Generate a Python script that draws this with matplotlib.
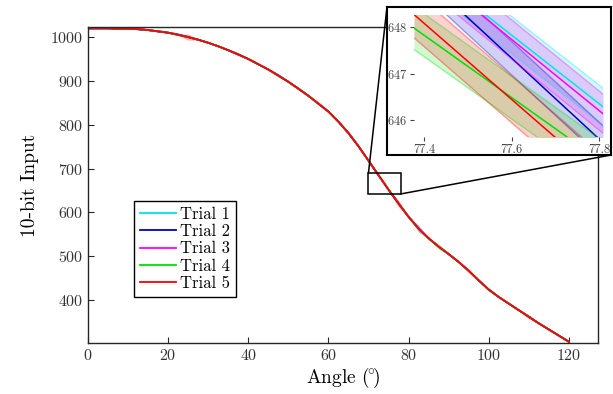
import matplotlib
matplotlib.use('Agg')
import matplotlib.pyplot as plt
from matplotlib.patches import Rectangle, ConnectionPatch
import numpy as np

plt.rcParams['font.family'] = 'serif'
plt.rcParams['font.serif'] = ['cmr10']
plt.rcParams['mathtext.fontset'] = 'cm'
plt.rcParams['axes.formatter.use_mathtext'] = True

# angle sweep (deg) and averaged 10-bit readings for each trial
angle = [0, 2.5, 5, 7.5, 10, 12.5, 15, 17.5, 20, 22.5, 25, 27.5, 30, 32.5, 35, 37.5,
         40, 42.5, 45, 47.5, 50, 52.5, 55, 57.5, 60, 62.5, 65, 67.5, 70, 72.5, 75, 77.5,
         80, 82.5, 85, 87.5, 90, 92.5, 95, 97.5, 100, 102.5, 105, 107.5, 110, 112.5,
         115, 117.5, 120]
trial_1 = [1020, 1020, 1020, 1019, 1019, 1018, 1016, 1013, 1010, 1005, 1000, 994, 987, 979,
           970, 960, 950, 938, 926, 912, 898, 882, 866, 848, 830, 807, 781, 751, 718, 685,
           652, 620, 590, 563, 541, 522, 505, 487, 467, 445, 424, 407, 392, 377, 362, 347,
           333, 319, 305]
trial_2 = [1020, 1020, 1020, 1019, 1019, 1018, 1016, 1013, 1010, 1006, 1000, 994, 987, 979,
           970, 961, 950, 938, 926, 913, 898, 883, 866, 848, 830, 807, 781, 751, 718, 685,
           652, 621, 590, 563, 541, 522, 505, 487, 467, 445, 424, 407, 392, 377, 362, 347,
           333, 319, 305]
trial_3 = [1020, 1020, 1020, 1019, 1019, 1018, 1016, 1013, 1010, 1005, 1000, 994, 987, 979,
           970, 960, 950, 938, 926, 912, 898, 882, 866, 849, 830, 807, 781, 751, 718, 685,
           652, 620, 590, 564, 541, 522, 505, 487, 467, 445, 424, 407, 392, 377, 362, 347,
           333, 319, 305]
trial_4 = [1020, 1020, 1020, 1019, 1019, 1018, 1016, 1013, 1010, 1005, 1000, 994, 987, 979,
           970, 960, 950, 938, 926, 912, 898, 882, 866, 848, 830, 807, 781, 751, 718, 685,
           652, 620, 590, 563, 541, 522, 505, 487, 467, 445, 424, 407, 392, 377, 362, 347,
           333, 319, 305]
trial_5 = [1020, 1020, 1020, 1019, 1019, 1018, 1016, 1013, 1010, 1005, 1000, 994, 987, 979,
           970, 960, 950, 938, 926, 912, 898, 882, 866, 848, 830, 807, 781, 751, 718, 685,
           652, 620, 590, 563, 541, 522, 505, 487, 467, 445, 424, 407, 392, 377, 362, 347,
           333, 319, 305]

# spread (+/-) of each trial
spread_1 = [1, 1, 1, 1, 1, 1, 1, 1, 1, 1, 2, 1, 1, 1, 1, 1, 1, 1, 1, 1, 1, 1, 1, 1, 1,
            1, 1, 3, 1, 1, 1, 1, 1, 1, 1, 1, 1, 1, 1, 1, 5, 1, 1, 1, 1, 1, 1, 1, 1]
spread_2 = [1, 1, 1, 1, 1, 1, 1, 1, 1, 1, 1, 1, 1, 1, 1, 1, 1, 1, 1, 1, 1, 1, 1, 1, 1,
            1, 1, 1, 1, 1, 1, 1, 1, 8, 1, 1, 1, 1, 1, 1, 1, 1, 1, 1, 1, 1, 1, 1, 1]
spread_3 = [1, 1, 1, 1, 1, 1, 1, 1, 1, 1, 1, 1, 1, 1, 1, 1, 1, 1, 1, 1, 1, 1, 1, 1, 1,
            1, 5, 4, 1, 1, 1, 1, 1, 1, 1, 1, 1, 1, 1, 1, 1, 1, 1, 1, 1, 1, 1, 1, 1]
spread_4 = [1, 1, 1, 1, 1, 1, 1, 1, 1, 1, 1, 1, 1, 1, 1, 1, 1, 1, 1, 4, 1, 1, 1, 1, 1,
            1, 1, 1, 1, 1, 1, 1, 1, 1, 1, 7, 1, 1, 1, 1, 1, 1, 1, 1, 1, 1, 1, 1, 1]
spread_5 = [1, 1, 1, 1, 1, 1, 1, 1, 1, 1, 7, 1, 1, 1, 1, 1, 1, 1, 1, 1, 1, 1, 1, 1, 1,
            1, 1, 1, 1, 1, 1, 8, 1, 1, 1, 1, 1, 1, 5, 1, 1, 1, 1, 1, 5, 1, 1, 1, 1]

labels = ['Trial 1', 'Trial 2', 'Trial 3', 'Trial 4', 'Trial 5']
colors = ['#00e5e5', '#0000c8', '#ff00ff', '#00e000', '#ff0000']

# close-up segments: (x0, y0) -> (x1, y1) and band half-height
zoom_x = [77.377, 77.809]
zoom_1 = [649.47, 646.29]
zoom_2 = [649.27, 645.52]
zoom_3 = [649.44, 646.14]
zoom_4 = [647.98, 645.09]
zoom_5 = [648.27, 644.74]
zoom_spread = [0.40, 0.36, 0.42, 0.46, 0.50]

trials = [trial_1, trial_2, trial_3, trial_4, trial_5]
spreads = [spread_1, spread_2, spread_3, spread_4, spread_5]
zooms = [zoom_1, zoom_2, zoom_3, zoom_4, zoom_5]

fig = plt.figure(figsize=(6.13, 3.94), dpi=100)
ax = fig.add_axes([0.1436, 0.1294, 0.832, 0.8021])

a = np.array(angle)
for vals, sp, c, lab in zip(trials, spreads, colors, labels):
    v = np.array(vals, dtype=float)
    s = np.array(sp, dtype=float)
    ax.fill_between(a, v - s, v + s, color=c, alpha=0.3, lw=0)
    ax.plot(a, v, color=c, lw=1.3, label=lab)

ax.set_xlim(0, 127.3)
ax.set_ylim(302, 1023)
ax.set_xticks([0, 20, 40, 60, 80, 100, 120])
ax.set_yticks([400, 500, 600, 700, 800, 900, 1000])
ax.tick_params(direction='in', length=4, labelsize=11.5, colors='#262626',
               labelcolor='#333333', width=0.8)
for sp in ax.spines.values():
    sp.set_color('#262626')
    sp.set_linewidth(1.0)
ax.set_xlabel('Angle ($\\!^{\\circ}\\!$)', fontsize=14, labelpad=2)
ax.set_ylabel('10-bit Input', fontsize=14, labelpad=8)

leg = ax.legend(loc='lower left', bbox_to_anchor=(0.09, 0.146), borderaxespad=0,
                fontsize=12, fancybox=False, edgecolor='black', framealpha=1,
                handlelength=2.2, handletextpad=0.2, labelspacing=0.12,
                borderpad=0.35)
leg.get_frame().set_linewidth(1.0)

# zoom box on the main curve
ax.add_patch(Rectangle((70, 642), 8, 48, fill=False, ec='black', lw=1.1, zorder=5))

# outer frame of the close-up
frame = fig.add_axes([0.6313, 0.6066, 0.3654, 0.3756])
frame.set_xticks([])
frame.set_yticks([])
frame.set_facecolor('white')
for sp in frame.spines.values():
    sp.set_linewidth(1.5)
    sp.set_color('black')

ins = fig.add_axes([0.6754, 0.6523, 0.3083, 0.3096])
ins.patch.set_alpha(0)
zx = np.array(zoom_x)
for zy, zs, c in zip(zooms, zoom_spread, colors):
    zy = np.array(zy)
    ins.fill_between(zx, zy - zs, zy + zs, color=c, alpha=0.18, lw=0)
    ins.plot(zx, zy - zs, color=c, lw=1.0, alpha=0.35)
    ins.plot(zx, zy + zs, color=c, lw=1.0, alpha=0.35)
    ins.plot(zx, zy, color=c, lw=1.1)
ins.set_xlim(77.377, 77.809)
ins.set_ylim(645.64, 648.26)
ins.set_xticks([77.4, 77.6, 77.8])
ins.set_yticks([646, 647, 648])
ins.set_xticklabels(['77.4', '77.6', '77.8'])
for sp in ins.spines.values():
    sp.set_visible(False)
ins.tick_params(direction='out', length=3, labelsize=9, colors='#444444', pad=2)

for xy_main, xy_frame in [((70, 690), (0, 1)), ((78, 642), (1, 0))]:
    con = ConnectionPatch(xyA=xy_main, coordsA=ax.transData,
                          xyB=xy_frame, coordsB=frame.transAxes,
                          color='black', lw=1.1)
    fig.add_artist(con)

fig.savefig('out.png', dpi=100)
